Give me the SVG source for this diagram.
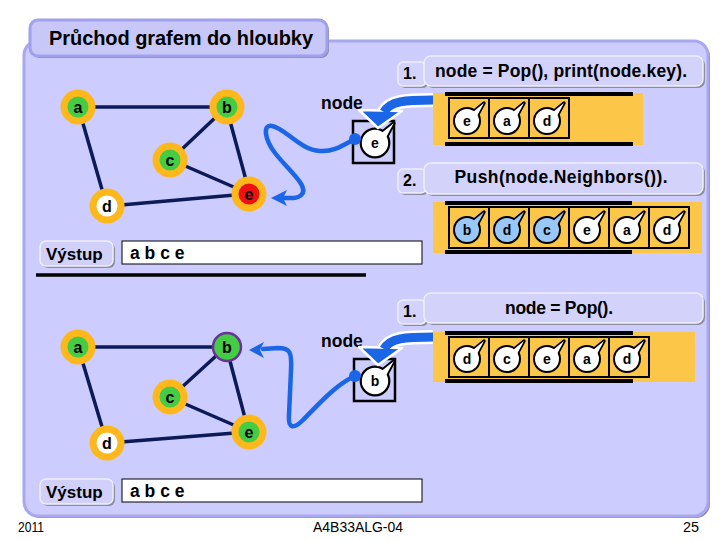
<svg xmlns="http://www.w3.org/2000/svg" width="720" height="540" viewBox="0 0 720 540">
<style>
text{font-family:"Liberation Sans",Arial,sans-serif;fill:#000}
.b{font-weight:bold}
.edge{stroke:#0c1a58;stroke-width:3.5;stroke-linecap:round;fill:none}
.ring{fill:#ffb81c}
.grn{fill:#44cc44}
.nl{font-weight:bold;font-size:16px;text-anchor:middle}
.tl{font-weight:bold;font-size:14px;text-anchor:middle}
.cell{fill:none;stroke:#000;stroke-width:2}
.bar{stroke:#000;stroke-width:4}
.stack{fill:#fcc648}
.box{fill:#d2d2fa;stroke:#eeeeff;stroke-width:1.5}
.shadow{fill:#8c8c9c}
.wire{fill:none;stroke:#1a66e6;stroke-width:4.5;stroke-linecap:round;stroke-linejoin:round}
.blue{fill:#1a66e6}
</style>
<defs>
<g id="tk">
<path d="M6,-9 L17,-18 L10,-5 Z" fill="#000" stroke="#000" stroke-width="3.5" stroke-linejoin="round"/>
<circle r="12" fill="#000" stroke="#000" stroke-width="4"/>
<path d="M6,-9 L17,-18 L10,-5 Z" fill="currentColor"/>
<circle r="12" fill="currentColor"/>
</g>
</defs>

<!-- panel -->
<g id="panel">
<rect x="26" y="43" width="684" height="475" rx="14" class="shadow"/>
<rect x="24" y="41" width="684" height="475" rx="14" fill="#ccccff" stroke="#a8a8f0" stroke-width="3"/>
</g>
<g id="title">
<rect x="32" y="22" width="297" height="36" rx="8" class="shadow"/>
<rect x="30" y="20" width="297" height="36" rx="8" fill="#c8c8f8" stroke="#a0a0ee" stroke-width="3"/>
<text x="49" y="45" class="b" font-size="20" textLength="264">Průchod grafem do hloubky</text>
</g>

<!-- top graph -->
<g id="connectors-top">
<line class="edge" x1="92" y1="107" x2="213" y2="107"/>
<line class="edge" x1="82" y1="120" x2="103" y2="193"/>
<line class="edge" x1="217" y1="116" x2="180" y2="151"/>
<line class="edge" x1="230" y1="121" x2="246" y2="180"/>
<line class="edge" x1="183" y1="165" x2="236" y2="188"/>
<line class="edge" x1="121" y1="205" x2="235" y2="195"/>
</g>
<g id="top-a"><circle cx="78" cy="107" r="17.5" class="ring"/><circle cx="78" cy="107" r="10.5" class="grn"/><text x="78" y="113" class="nl">a</text></g>
<g id="top-b"><circle cx="227" cy="107" r="17.5" class="ring"/><circle cx="227" cy="107" r="10.5" class="grn"/><text x="227" y="113" class="nl">b</text></g>
<g id="top-c"><circle cx="170" cy="160" r="17.5" class="ring"/><circle cx="170" cy="160" r="10.5" class="grn"/><text x="170" y="166" class="nl">c</text></g>
<g id="top-d"><circle cx="107" cy="206" r="17.5" class="ring"/><circle cx="107" cy="206" r="10.5" fill="#fff"/><text x="107" y="212" class="nl">d</text></g>
<g id="top-e"><circle cx="249" cy="194" r="17.5" class="ring"/><circle cx="249" cy="194" r="10.5" fill="#ee1111"/><text x="249" y="200" class="nl">e</text></g>

<!-- top right: commands -->
<g id="cmd1-top">
<rect x="400" y="64" width="28" height="24" rx="5" class="shadow"/>
<rect x="398" y="62" width="28" height="24" rx="5" class="box"/>
<text x="403" y="79" class="b" font-size="16">1.</text>
<rect x="426" y="58" width="279" height="30" rx="7" class="shadow"/>
<rect x="424" y="56" width="279" height="30" rx="7" class="box"/>
<text x="435" y="77" class="b" font-size="17.5" textLength="252">node = Pop(), print(node.key).</text>
</g>
<g id="stack-top">
<rect x="433" y="93" width="210" height="52" class="stack"/>
<line x1="445" y1="94" x2="633" y2="94" class="bar"/>
<line x1="445" y1="144" x2="633" y2="144" class="bar"/>
<rect x="449" y="98" width="40" height="40" class="cell"/>
<rect x="489" y="98" width="40" height="40" class="cell"/>
<rect x="529" y="98" width="40" height="40" class="cell"/>
<use href="#tk" x="467" y="121" color="#fff"/><text x="467" y="126" class="tl">e</text>
<use href="#tk" x="507" y="121" color="#fff"/><text x="507" y="126" class="tl">a</text>
<use href="#tk" x="547" y="121" color="#fff"/><text x="547" y="126" class="tl">d</text>
</g>
<g id="node-top">
<text x="321" y="109" class="b" font-size="17.5">node</text>
<rect x="353" y="121" width="41" height="42" fill="none" stroke="#000" stroke-width="2.5"/>
<use href="#tk" transform="translate(375,143) scale(1.1)" color="#fff"/><text x="375" y="148" class="tl">e</text>
</g>
<g id="cmd2">
<rect x="400" y="171" width="28" height="24" rx="5" class="shadow"/>
<rect x="398" y="169" width="28" height="24" rx="5" class="box"/>
<text x="403" y="186" class="b" font-size="16">2.</text>
<rect x="426" y="165" width="279" height="31" rx="7" class="shadow"/>
<rect x="424" y="163" width="279" height="31" rx="7" class="box"/>
<text x="561" y="183" class="b" font-size="17.5" text-anchor="middle" textLength="213">Push(node.Neighbors()).</text>
</g>
<g id="stack-mid">
<rect x="433" y="202" width="269" height="51" class="stack"/>
<line x1="445" y1="203" x2="632" y2="203" class="bar"/>
<line x1="445" y1="252" x2="632" y2="252" class="bar"/>
<rect x="449" y="207" width="40" height="41" class="cell"/>
<rect x="489" y="207" width="40" height="41" class="cell"/>
<rect x="529" y="207" width="40" height="41" class="cell"/>
<rect x="569" y="207" width="40" height="41" class="cell"/>
<rect x="609" y="207" width="40" height="41" class="cell"/>
<rect x="649" y="207" width="40" height="41" class="cell"/>
<use href="#tk" x="467" y="230" color="#99c8f8"/><text x="467" y="235" class="tl">b</text>
<use href="#tk" x="507" y="230" color="#99c8f8"/><text x="507" y="235" class="tl">d</text>
<use href="#tk" x="547" y="230" color="#99c8f8"/><text x="547" y="235" class="tl">c</text>
<use href="#tk" x="587" y="230" color="#fff"/><text x="587" y="235" class="tl">e</text>
<use href="#tk" x="627" y="230" color="#fff"/><text x="627" y="235" class="tl">a</text>
<use href="#tk" x="667" y="230" color="#fff"/><text x="667" y="235" class="tl">d</text>
</g>

<!-- output top -->
<g id="out-top">
<rect x="42" y="243" width="73" height="25" rx="6" class="shadow"/>
<rect x="40" y="241" width="73" height="25" rx="6" fill="#d0d0f8" stroke="#eeeeff" stroke-width="1.5"/>
<text x="46" y="260" class="b" font-size="17">Výstup</text>
<rect x="122" y="241" width="300" height="23" fill="#fff" stroke="#000" stroke-width="1"/>
<text x="130" y="259" class="b" font-size="17.5">a b c e</text>
</g>
<line id="divider" x1="36" y1="275" x2="366" y2="275" stroke="#000" stroke-width="3.5"/>

<!-- bottom graph -->
<g id="connectors-bottom">
<line class="edge" x1="92" y1="347" x2="213" y2="347"/>
<line class="edge" x1="82" y1="360" x2="103" y2="430"/>
<line class="edge" x1="216" y1="356" x2="181" y2="388"/>
<line class="edge" x1="230" y1="361" x2="245" y2="418"/>
<line class="edge" x1="183" y1="403" x2="236" y2="426"/>
<line class="edge" x1="121" y1="442" x2="235" y2="433"/>
</g>
<g id="bot-a"><circle cx="78" cy="347" r="17.5" class="ring"/><circle cx="78" cy="347" r="10.5" class="grn"/><text x="78" y="353" class="nl">a</text></g>
<g id="bot-b"><circle cx="227" cy="347" r="14" class="grn" stroke="#663399" stroke-width="2.5"/><text x="227" y="353" class="nl">b</text></g>
<g id="bot-c"><circle cx="170" cy="397" r="17.5" class="ring"/><circle cx="170" cy="397" r="10.5" class="grn"/><text x="170" y="403" class="nl">c</text></g>
<g id="bot-d"><circle cx="107" cy="443" r="17.5" class="ring"/><circle cx="107" cy="443" r="10.5" fill="#fff"/><text x="107" y="449" class="nl">d</text></g>
<g id="bot-e"><circle cx="249" cy="432" r="17.5" class="ring"/><circle cx="249" cy="432" r="10.5" class="grn"/><text x="249" y="438" class="nl">e</text></g>

<g id="cmd1-bot">
<rect x="400" y="302" width="28" height="24" rx="5" class="shadow"/>
<rect x="398" y="300" width="28" height="24" rx="5" class="box"/>
<text x="403" y="317" class="b" font-size="16">1.</text>
<rect x="426" y="295" width="279" height="30" rx="7" class="shadow"/>
<rect x="424" y="293" width="279" height="30" rx="7" class="box"/>
<text x="559" y="314" class="b" font-size="17.5" text-anchor="middle" textLength="108">node = Pop().</text>
</g>
<g id="stack-bot">
<rect x="433" y="332" width="262" height="50" class="stack"/>
<line x1="445" y1="333" x2="633" y2="333" class="bar"/>
<line x1="445" y1="381" x2="633" y2="381" class="bar"/>
<rect x="449" y="337" width="40" height="40" class="cell"/>
<rect x="489" y="337" width="40" height="40" class="cell"/>
<rect x="529" y="337" width="40" height="40" class="cell"/>
<rect x="569" y="337" width="40" height="40" class="cell"/>
<rect x="609" y="337" width="40" height="40" class="cell"/>
<use href="#tk" x="467" y="359" color="#fff"/><text x="467" y="364" class="tl">d</text>
<use href="#tk" x="507" y="359" color="#fff"/><text x="507" y="364" class="tl">c</text>
<use href="#tk" x="547" y="359" color="#fff"/><text x="547" y="364" class="tl">e</text>
<use href="#tk" x="587" y="359" color="#fff"/><text x="587" y="364" class="tl">a</text>
<use href="#tk" x="627" y="359" color="#fff"/><text x="627" y="364" class="tl">d</text>
</g>
<g id="node-bot">
<text x="321" y="347" class="b" font-size="17.5">node</text>
<rect x="354" y="359" width="41" height="42" fill="none" stroke="#000" stroke-width="2.5"/>
<use href="#tk" transform="translate(375,381) scale(1.1)" color="#fff"/><text x="375" y="386" class="tl">b</text>
</g>

<g id="out-bot">
<rect x="42" y="481" width="73" height="25" rx="6" class="shadow"/>
<rect x="40" y="479" width="73" height="25" rx="6" fill="#d0d0f8" stroke="#eeeeff" stroke-width="1.5"/>
<text x="46" y="498" class="b" font-size="17">Výstup</text>
<rect x="122" y="479" width="300" height="23" fill="#fff" stroke="#000" stroke-width="1"/>
<text x="130" y="497" class="b" font-size="17.5">a b c e</text>
</g>

<!-- blue arrows -->
<g id="connectors-blue">
<path d="M433,100 C405,100 390,101 384,112" fill="none" stroke="#fff" stroke-width="14"/>
<polygon points="378,128 359,110 402,111" class="blue" stroke="#fff" stroke-width="2.5" stroke-linejoin="round"/>
<path d="M433,100 C405,100 390,101 384,112" fill="none" stroke="#1a66e6" stroke-width="9"/>
<circle cx="355" cy="139" r="6" class="blue"/>
<path class="wire" d="M355,139 C345,144 335,152 320,151 C300,150 285,128 272,126 C262,124 265,140 275,153 C288,170 312,188 300,196 C296,199 291,198 284,198"/>
<polygon points="271,198 287,190 283,198 287,206" class="blue"/>

<path d="M433,337 C405,337 390,338 384,349" fill="none" stroke="#fff" stroke-width="14"/>
<polygon points="378,365 359,347 402,348" class="blue" stroke="#fff" stroke-width="2.5" stroke-linejoin="round"/>
<path d="M433,337 C405,337 390,338 384,349" fill="none" stroke="#1a66e6" stroke-width="9"/>
<circle cx="355" cy="376" r="6" class="blue"/>
<path class="wire" d="M355,376 C335,385 318,405 303,420 C293,430 288,428 289,415 L291,370 C292,352 290,348 278,348 L263,349"/>
<polygon points="249,350 264,342 260,350 264,358" class="blue"/>
</g>

<!-- footer -->
<g id="footer">
<text x="18" y="532" font-size="15" textLength="26" lengthAdjust="spacingAndGlyphs">2011</text>
<text x="358" y="532" font-size="15" text-anchor="middle" textLength="90" lengthAdjust="spacingAndGlyphs">A4B33ALG-04</text>
<text x="699" y="532" font-size="15" text-anchor="end" textLength="16" lengthAdjust="spacingAndGlyphs">25</text>
</g>
</svg>
